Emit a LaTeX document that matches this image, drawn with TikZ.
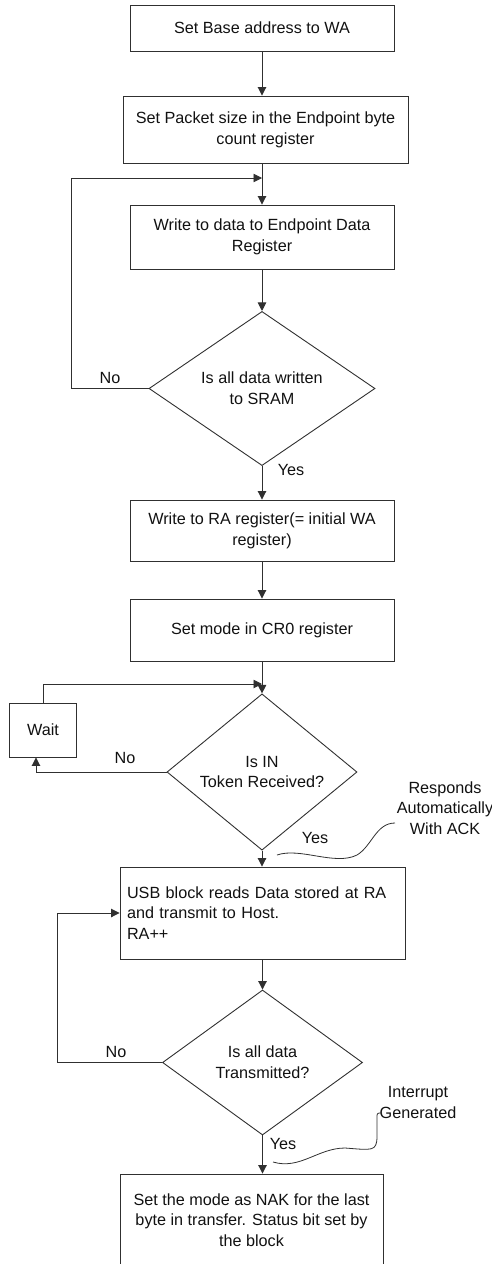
\documentclass[tikz,border=0pt]{standalone}
\usepackage{fontspec}
\setmainfont{Liberation Sans}
\usetikzlibrary{shapes.geometric,arrows.meta}
\definecolor{linec}{HTML}{303030}
\definecolor{textc}{HTML}{111111}
\begin{document}
\begin{tikzpicture}[x=1pt,y=-1pt,
  font=\fontsize{16.2}{20.7}\selectfont,
  line width=0.9pt,
  proc/.style={draw=linec, rectangle, inner sep=0pt, align=center, text=textc},
  dec/.style={draw=linec, diamond, inner sep=0pt, align=center, text=textc},
  arr/.style={draw=linec, -{Triangle[length=8.5pt,width=8.5pt]}},
  lbl/.style={text=textc, inner sep=0pt},
  note/.style={draw=linec, line width=0.8pt}]
\useasboundingbox (0,0) rectangle (492,1264);
\clip (0,0) rectangle (492,1264);

% process boxes
\node[proc, minimum width=264pt, minimum height=46pt] (b1) at (262,28) {Set Base address to WA};
\node[proc, minimum width=285pt, minimum height=67pt] (b2) at (265.5,129.5) {Set Packet size in the Endpoint byte\\count register};
\node[proc, minimum width=264pt, minimum height=64pt] (b3) at (262,237) {Write to data to Endpoint Data\\Register};
\node[dec, minimum width=226pt, minimum height=147pt] (d1) at (262,388.5) {Is all data written\\to SRAM};
\node[proc, minimum width=264pt, minimum height=61pt] (b4) at (262,530.5) {Write to RA register(= initial WA\\register)};
\node[proc, minimum width=264pt, minimum height=62pt] (b5) at (262,630) {Set mode in CR0 register};
\node[proc, minimum width=66.5pt, minimum height=54pt] (wait) at (43,730) {Wait};
\node[dec, minimum width=190pt, minimum height=146pt] (d2) at (262,772) {Is IN\\Token Received?};
\node[proc, text width=271.5pt, align=left, inner xsep=7pt, minimum height=92pt] (b6) at (262.75,913) {USB block reads Data stored at RA\\and transmit to Host.\\RA++};
\node[dec, minimum width=200pt, minimum height=145pt] (d3) at (262.5,1062.5) {Is all data\\Transmitted?};
\node[proc, minimum width=263pt, minimum height=92pt] (b7) at (251.5,1220) {Set the mode as NAK for the last\\byte in transfer. Status bit set by\\the block};

% junction points
\coordinate (j1) at (262,178);
\coordinate (j2) at (262,684);

% main flow
\draw[arr] (b1) -- (b2.north -| b1.south);
\draw[arr] (b2.south -| b3.north) -- (b3.north);
\draw[arr] (b3) -- (d1);
\draw[arr] (d1) -- (b4);
\draw[arr] (b4) -- (b5);
\draw[arr] (b5) -- (d2);
\draw[arr] (d2.south) -- (d2.south |- b6.north);
\draw[arr] (b6.south -| d3.north) -- (d3.north);
\draw[arr] (d3.south) -- (d3.south |- b7.north);

% loops
\draw[arr] (d1.west) -- ++(-77,0) |- (j1);
\draw[arr] (wait.north) |- (j2);
\draw[arr] (d2.west) -| ([xshift=-7pt]wait.south);
\draw[arr] (d3.west) -- ++(-104.5,0) |- (b6.west);

% edge labels
\node[lbl] (no1) at (110,378) {No};
\node[lbl] (yes1) at (291,470) {Yes};
\node[lbl] (no2) at (125,758) {No};
\node[lbl] (yes2) at (315,838) {Yes};
\node[lbl] (no3) at (116,1052) {No};
\node[lbl] (yes3) at (283,1144) {Yes};

% annotations
\node[lbl, align=center] (ack) at (445,808) {Responds\\Automatically\\With ACK};
\node[lbl, align=center] (intr) at (418,1102.5) {Interrupt\\Generated};
\coordinate (a0) at (277,855);
\coordinate (a1) at (395,823);
\draw[note] (a0) .. controls (300,847) and (335,866) .. (357,855)
  .. controls (372,846) and (376,823) .. (a1);
\coordinate (i0) at (273,1162);
\coordinate (i1) at (382,1113);
\draw[note] (i0) .. controls (300,1170) and (318,1148) .. (345,1148)
  .. controls (372,1150) and (377,1152) .. (377,1136)
  -- (377,1118) .. controls (377,1113) .. (i1);
\end{tikzpicture}
\end{document}
